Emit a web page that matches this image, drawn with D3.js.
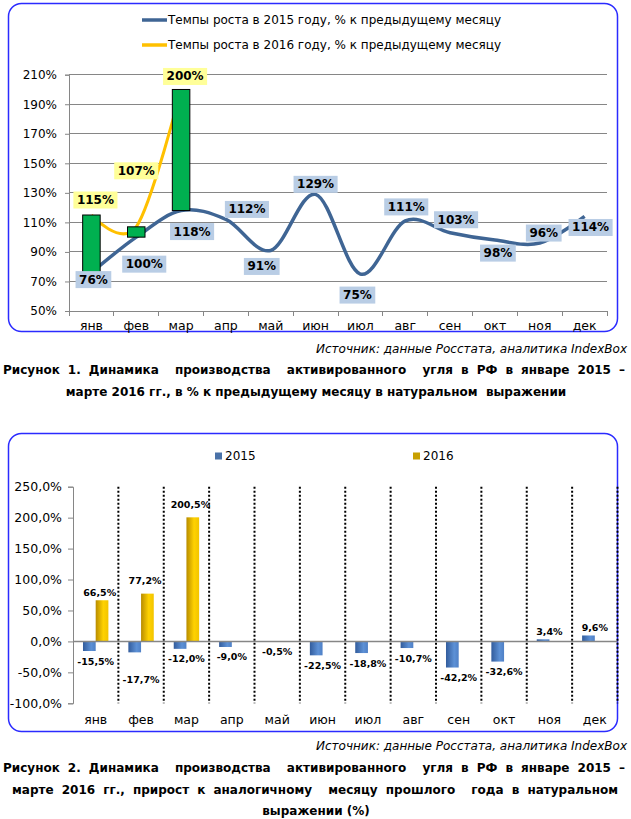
<!DOCTYPE html>
<html><head><meta charset="utf-8">
<script src="https://cdn.jsdelivr.net/npm/d3@7"></script>
<style>
body{margin:0;background:#fff;}
svg{display:block;font-family:"DejaVu Sans",Verdana,sans-serif;}
</style></head>
<body>
<svg id="c" width="631" height="819"></svg>
<script>
// ---------- DATA ----------
const months = ["янв","фев","мар","апр","май","июн","июл","авг","сен","окт","ноя","дек"];
// Chart 1: growth vs previous month, %
const growth2015 = [76,100,118,112,91,129,75,111,103,98,96,114];
const growth2016 = [115,107,200];
const yTicks1 = [50,70,90,110,130,150,170,190,210];
const legend1 = ["Темпы роста в 2015 году, % к предыдущему месяцу","Темпы роста в 2016 году, % к предыдущему месяцу"];
// Chart 2: change vs same month of previous year, %
const yoy2015 = [-15.5,-17.7,-12.0,-9.0,-0.5,-22.5,-18.8,-10.7,-42.2,-32.6,3.4,9.6];
const yoy2016 = [66.5,77.2,200.5];
const yTicks2 = [-100,-50,0,50,100,150,200,250];
const legend2 = ["2015","2016"];
const sourceText = "Источник: данные Росстата, аналитика IndexBox";
const caption1 = ["Рисунок 1. Динамика\u00A0 производства\u00A0 активированного\u00A0 угля в РФ в январе 2015 –","марте 2016 гг., в % к предыдущему месяцу в натуральном\u00A0 выражении"];
const caption2 = ["Рисунок 2. Динамика\u00A0 производства\u00A0 активированного\u00A0 угля в РФ в январе 2015 –","марте 2016 гг., прирост к аналогичному\u00A0 месяцу прошлого\u00A0 года в натуральном","выражении (%)"];

// ---------- LAYOUT (label nudges, px) ----------
const lab2015Off = [[2,7],[8,27],[11,21],[21,-10],[-9,16],[0,-10],[-3,21],[1,-14],[6,-13],[3,13],[4,-10],[6,11]];
const lab2016Off = [[4,-15],[0,-56],[4,-13]];

const svg = d3.select("#c");
const fmt1 = v => v + "%";
const fmt2 = v => d3.format(".1f")(v).replace(".", ",").replace("\u2212","-") + "%";

function justify(sel, width){
  const len = sel.node().getComputedTextLength();
  const txt = sel.text();
  const n = (txt.match(/[ \u00A0]/g)||[]).length;
  if(n>0 && width>len) sel.attr("word-spacing", (width-len)/n);
}

// ================= CHART 1 =================
svg.append("rect").attr("x",8.5).attr("y",3.5).attr("width",609).attr("height",328)
  .attr("rx",13).attr("fill","#fff").attr("stroke","#2b2bff").attr("stroke-width",1.5);

const x1 = d3.scaleBand().domain(months).range([69,607]);
const y1 = d3.scaleLinear().domain([50,210]).range([311,74.7]);
const cx1 = m => x1(m) + x1.bandwidth()/2;

// gridlines
svg.append("g").selectAll("line").data(yTicks1).join("line")
  .attr("x1",69).attr("x2",607).attr("y1",d=>y1(d)).attr("y2",d=>y1(d))
  .attr("stroke","#868686").attr("stroke-width",1).attr("shape-rendering","crispEdges");
// y axis
const ya1 = d3.axisLeft(y1).tickValues(yTicks1).tickFormat(fmt1).tickSize(4).tickPadding(8);
const gy1 = svg.append("g").attr("transform","translate(69,0)").call(ya1);
gy1.select(".domain").attr("stroke","#868686");
gy1.selectAll(".tick line").attr("stroke","#868686");
gy1.selectAll("text").attr("font-size",12).attr("fill","#000").attr("font-family","DejaVu Sans");
// x axis
const xa1 = d3.axisBottom(x1).tickSize(0).tickPadding(10);
const gx1 = svg.append("g").attr("transform","translate(0,311)").call(xa1);
gx1.select(".domain").attr("stroke","#868686");
gx1.selectAll("text").attr("font-size",12.5).attr("fill","#000").attr("font-family","DejaVu Sans");
svg.append("g").selectAll("line").data(months.concat(["end"])).join("line")
  .attr("x1",(d,i)=>x1.range()[0]+i*x1.step()).attr("x2",(d,i)=>x1.range()[0]+i*x1.step())
  .attr("y1",311).attr("y2",316).attr("stroke","#868686").attr("shape-rendering","crispEdges");

// lines
const line = d3.line().x(d=>cx1(d.m)).y(d=>y1(d.v)).curve(d3.curveCardinal.tension(0));
const d2015 = months.map((m,i)=>({m,v:growth2015[i]}));
const d2016 = growth2016.map((v,i)=>({m:months[i],v}));
svg.append("path").attr("d",line(d2016)).attr("fill","none").attr("stroke","#ffc000").attr("stroke-width",3);
svg.append("path").attr("d",line(d2015)).attr("fill","none").attr("stroke","#3f6594").attr("stroke-width",3.5);

// up-down bars
const bw = 17.5;
svg.append("g").selectAll("rect").data(d2016).join("rect")
  .attr("x",d=>cx1(d.m)-bw/2).attr("width",bw)
  .attr("y",(d,i)=>y1(Math.max(d.v,growth2015[i])))
  .attr("height",(d,i)=>Math.abs(y1(d.v)-y1(growth2015[i])))
  .attr("fill","#00b050").attr("stroke","#000").attr("stroke-width",1);

// data labels
function boxLabel(g, x, y, text, bg){
  const t = g.append("text").attr("x",x).attr("y",y).attr("text-anchor","middle")
    .attr("dominant-baseline","central").attr("font-weight","bold").attr("font-size",12).text(text);
  const w = t.node().getComputedTextLength()+7;
  g.insert("rect","text:last-child").attr("x",x-w/2).attr("y",y-8.5).attr("width",w).attr("height",17).attr("fill",bg);
}
const gl = svg.append("g");
d2015.forEach((d,i)=>{
  const g = gl.append("g");
  boxLabel(g, cx1(d.m)+lab2015Off[i][0], y1(d.v)+lab2015Off[i][1], fmt1(d.v), "#b9cde5");
});
d2016.forEach((d,i)=>{
  const g = gl.append("g");
  boxLabel(g, cx1(d.m)+lab2016Off[i][0], y1(d.v)+lab2016Off[i][1], fmt1(d.v), "#ffff99");
});

// legend
const lg1 = svg.append("g");
const legColors1 = ["#3f6594","#ffc000"];
legend1.forEach((t,i)=>{
  const yy = 20 + i*25;
  lg1.append("line").attr("x1",142).attr("x2",167).attr("y1",yy).attr("y2",yy)
    .attr("stroke",legColors1[i]).attr("stroke-width",3.5);
  lg1.append("text").attr("x",168).attr("y",yy).attr("dominant-baseline","central")
    .attr("font-size",12).attr("font-family","DejaVu Sans").text(t);
});

// source + caption
svg.append("text").attr("x",627).attr("y",349).attr("text-anchor","end").attr("dominant-baseline","central")
  .attr("font-style","italic").attr("font-size",12).text(sourceText);
const c1a = svg.append("text").attr("x",3).attr("y",370).attr("dominant-baseline","central")
  .attr("font-weight","bold").attr("font-size",12).text(caption1[0]);
justify(c1a, 622);
svg.append("text").attr("x",316).attr("y",392).attr("text-anchor","middle").attr("dominant-baseline","central")
  .attr("font-weight","bold").attr("font-size",12).text(caption1[1]);

// ================= CHART 2 =================
const defs = svg.append("defs");
const gb = defs.append("linearGradient").attr("id","gBlue").attr("x1","0").attr("x2","1").attr("y1","0").attr("y2","0");
gb.append("stop").attr("offset","0").attr("stop-color","#325c9c");
gb.append("stop").attr("offset","0.65").attr("stop-color","#5d91d6");
gb.append("stop").attr("offset","1").attr("stop-color","#4f80c6");
const gy = defs.append("linearGradient").attr("id","gGold").attr("x1","0").attr("x2","1").attr("y1","0").attr("y2","0");
gy.append("stop").attr("offset","0").attr("stop-color","#b88c00");
gy.append("stop").attr("offset","0.6").attr("stop-color","#ffd200");
gy.append("stop").attr("offset","1").attr("stop-color","#f2c400");

svg.append("rect").attr("x",8.5).attr("y",433.5).attr("width",609).attr("height",298)
  .attr("rx",13).attr("fill","#fff").attr("stroke","#2b2bff").attr("stroke-width",1.5);

const x2 = d3.scaleBand().domain(months).range([73,617.5]);
const y2 = d3.scaleLinear().domain([-100,250]).range([703.3,486.7]);
const cx2 = m => x2(m) + x2.bandwidth()/2;
const sub = d3.scaleBand().domain(legend2).range([-12.7,12.7]);

// dotted separators
svg.append("g").selectAll("line").data(months).join("line")
  .attr("x1",d=>x2(d)+x2.bandwidth()).attr("x2",d=>x2(d)+x2.bandwidth())
  .attr("y1",y2(250)).attr("y2",y2(-100))
  .attr("stroke","#000").attr("stroke-width",2).attr("stroke-dasharray","2,2");

// bars
const b2015 = months.map((m,i)=>({m,v:yoy2015[i]}));
const b2016 = yoy2016.map((v,i)=>({m:months[i],v}));
svg.append("g").selectAll("rect").data(b2015).join("rect")
  .attr("x",d=>cx2(d.m)+sub("2015")).attr("width",sub.bandwidth())
  .attr("y",d=>y2(Math.max(0,d.v))).attr("height",d=>Math.abs(y2(d.v)-y2(0)))
  .attr("fill","url(#gBlue)");
svg.append("g").selectAll("rect").data(b2016).join("rect")
  .attr("x",d=>cx2(d.m)+sub("2016")).attr("width",sub.bandwidth())
  .attr("y",d=>y2(Math.max(0,d.v))).attr("height",d=>Math.abs(y2(d.v)-y2(0)))
  .attr("fill","url(#gGold)");

// zero line
svg.append("line").attr("x1",73).attr("x2",617.5).attr("y1",y2(0)).attr("y2",y2(0))
  .attr("stroke","#868686").attr("stroke-width",1.5);
// y axis
const ya2 = d3.axisLeft(y2).tickValues(yTicks2).tickFormat(fmt2).tickSize(5).tickPadding(6);
const gy2 = svg.append("g").attr("transform","translate(73,0)").call(ya2);
gy2.select(".domain").attr("stroke","#868686");
gy2.selectAll(".tick line").attr("stroke","#868686");
gy2.selectAll("text").attr("font-size",12.5).attr("fill","#000").attr("font-family","DejaVu Sans");
// x labels
svg.append("g").selectAll("text").data(months).join("text")
  .attr("x",d=>cx2(d)).attr("y",719).attr("text-anchor","middle").attr("dominant-baseline","central")
  .attr("font-size",12.5).text(d=>d);

// data labels
const lab2 = svg.append("g").attr("font-weight","bold").attr("font-size",9.5).attr("text-anchor","middle");
b2015.forEach((d,i)=>{
  const extra = (d.m==="фев") ? 17 : 0;
  const yy = d.v<0 ? y2(d.v)+10+extra : y2(d.v)-8;
  lab2.append("text").attr("x",cx2(d.m)).attr("y",yy).attr("dominant-baseline","central").text(fmt2(d.v));
});
b2016.forEach((d,i)=>{
  const extra = i>0 ? -5 : 0;
  lab2.append("text").attr("x",cx2(d.m)+4).attr("y",y2(d.v)-8+extra).attr("dominant-baseline","central").text(fmt2(d.v));
});

// legend 2
const legColors2 = ["#4a72a8","#c8a000"];
const legX2 = [215,413];
legend2.forEach((t,i)=>{
  svg.append("rect").attr("x",legX2[i]).attr("y",452.5).attr("width",7).attr("height",7).attr("fill",legColors2[i]);
  svg.append("text").attr("x",legX2[i]+10).attr("y",456).attr("dominant-baseline","central")
    .attr("font-size",12).text(t);
});

// source + caption 2
svg.append("text").attr("x",627).attr("y",746).attr("text-anchor","end").attr("dominant-baseline","central")
  .attr("font-style","italic").attr("font-size",12).text(sourceText);
const c2a = svg.append("text").attr("x",3).attr("y",768).attr("dominant-baseline","central")
  .attr("font-weight","bold").attr("font-size",12).text(caption2[0]);
justify(c2a, 622);
const c2b = svg.append("text").attr("x",12).attr("y",790).attr("dominant-baseline","central")
  .attr("font-weight","bold").attr("font-size",12).text(caption2[1]);
justify(c2b, 606);
svg.append("text").attr("x",316).attr("y",811).attr("text-anchor","middle").attr("dominant-baseline","central")
  .attr("font-weight","bold").attr("font-size",12).text(caption2[2]);
</script>
</body></html>
